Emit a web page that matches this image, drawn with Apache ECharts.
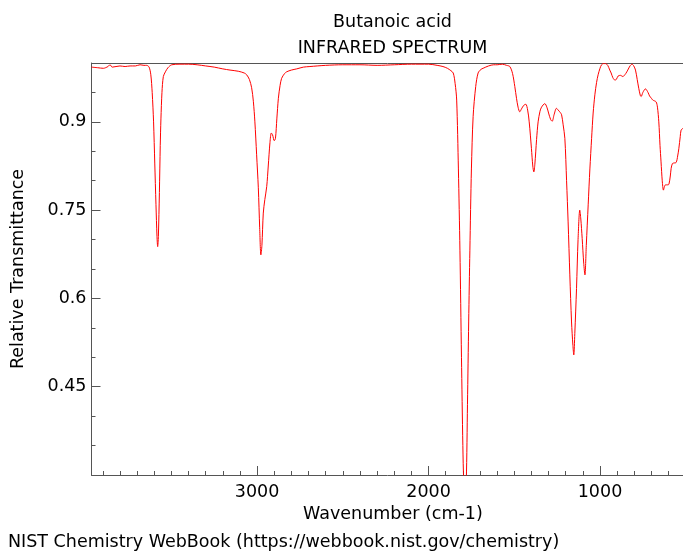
<!DOCTYPE html>
<html>
<head>
<meta charset="utf-8">
<title>Butanoic acid IR</title>
<script src="https://cdn.jsdelivr.net/npm/echarts@6/dist/echarts.min.js"></script>
<style>
  html, body { margin: 0; padding: 0; background: #fff; }
  #chart { width: 683px; height: 551px; }
</style>
</head>
<body>
<div id="chart"></div>
<script>
// spectrum (wavenumber cm-1, transmittance)
var wavenumber = [3966,3930,3897,3870,3858,3845,3800,3770,3741,3710,3683,3660,3644,3630,3620,3612,3604,3597,3590,3584,3580,3576,3570,3565,3561,3555,3547,3535,3520,3498,3450,3400,3350,3300,3250,3200,3158,3110,3075,3061,3045,3032,3022,3013,3003,2993,2985,2978,2972,2964,2955,2944,2935,2925,2917,2910,2900,2893,2885,2876,2866,2857,2840,2828,2800,2769,2730,2692,2600,2500,2400,2300,2200,2100,2000,1950,1916,1890,1870,1856,1845,1836,1826,1817,1808,1800,1795,1788,1780,1773,1766,1759,1750,1740,1725,1711,1695,1682,1650,1620,1600,1570,1545,1526,1510,1497,1487,1478,1468,1458,1445,1433,1422,1413,1400,1392,1386,1380,1370,1361,1350,1341,1322,1310,1300,1288,1279,1268,1254,1244,1232,1224,1215,1205,1195,1186,1176,1166,1158,1153,1147,1137,1128,1118,1112,1104,1095,1088,1080,1069,1059,1049,1040,1030,1020,1011,1000,991,980,968,955,943,935,925,913,905,894,880,867,850,838,825,813,803,793,783,774,765,760,750,735,720,711,700,692,673,665,657,650,644,637,630,624,618,605,598,590,585,578,571,556,547,540,532,527,516];
var transmittance = [0.993,0.992,0.991,0.994,0.997,0.993,0.995,0.994,0.995,0.995,0.997,0.996,0.996,0.993,0.980,0.950,0.900,0.830,0.760,0.705,0.688,0.705,0.780,0.860,0.905,0.950,0.977,0.985,0.992,0.997,0.998,0.998,0.997,0.995,0.993,0.990,0.988,0.986,0.983,0.980,0.972,0.958,0.935,0.900,0.845,0.788,0.720,0.674,0.690,0.745,0.768,0.790,0.825,0.865,0.881,0.878,0.868,0.872,0.905,0.940,0.962,0.974,0.982,0.985,0.988,0.990,0.993,0.994,0.996,0.997,0.997,0.996,0.997,0.998,0.998,0.996,0.994,0.991,0.987,0.983,0.965,0.937,0.820,0.682,0.500,0.350,0.290,0.260,0.290,0.420,0.560,0.682,0.820,0.909,0.960,0.983,0.989,0.991,0.995,0.997,0.997,0.998,0.996,0.994,0.982,0.960,0.940,0.925,0.917,0.922,0.928,0.930,0.920,0.900,0.855,0.825,0.815,0.828,0.870,0.900,0.918,0.925,0.931,0.925,0.915,0.904,0.901,0.912,0.923,0.920,0.916,0.912,0.895,0.872,0.800,0.730,0.640,0.560,0.520,0.504,0.540,0.617,0.700,0.750,0.735,0.702,0.660,0.640,0.690,0.759,0.820,0.872,0.915,0.946,0.967,0.980,0.991,0.997,0.999,0.999,0.996,0.988,0.983,0.975,0.971,0.972,0.978,0.979,0.977,0.982,0.988,0.995,0.998,0.995,0.988,0.972,0.957,0.945,0.943,0.950,0.956,0.950,0.944,0.940,0.937,0.934,0.925,0.900,0.860,0.832,0.800,0.784,0.790,0.793,0.793,0.794,0.808,0.821,0.829,0.830,0.831,0.842,0.855,0.875,0.886,0.889];

var xMinorTicks = [500,600,700,800,900,1000,1100,1200,1300,1400,1500,1600,1700,1800,1900,2000,2100,2200,2300,2400,2500,2600,2700,2800,2900,3000,3100,3200,3300,3400,3500,3600,3700,3800,3900];
var xMajorTicks = [1000, 2000, 3000];
var yMinorTicks = [0.35,0.4,0.45,0.5,0.55,0.6,0.65,0.7,0.75,0.8,0.85,0.9,0.95];
var yMajorTicks = [0.45, 0.6, 0.75, 0.9];

var font = 'DejaVu Sans';
var fontSize = 17.5;
var axisColor = '#555';
var xRange = { min: 450, max: 3966 };
var yRange = { min: 0.3, max: 1.0 };

var points = wavenumber.map(function (w, i) { return [w, transmittance[i]]; });

var chart = echarts.init(document.getElementById('chart'), null, { renderer: 'canvas' });

var txt = fontSize + 'px "DejaVu Sans"';

chart.setOption({
  animation: false,
  backgroundColor: '#fff',
  // the plot runs past the right edge of the picture (to 450 cm-1)
  grid: { left: 91.5, width: 602.8, top: 63, height: 412, outerBoundsMode: 'none', containLabel: false },
  graphic: [
    { type: 'text', x: 392.5, y: 22, style: { text: 'Butanoic acid', font: txt, fill: '#000', textAlign: 'center', textVerticalAlign: 'middle' } },
    { type: 'text', x: 392.5, y: 48, style: { text: 'INFRARED SPECTRUM', font: txt, fill: '#000', textAlign: 'center', textVerticalAlign: 'middle' } },
    { type: 'text', x: 8, y: 542, style: { text: 'NIST Chemistry WebBook (https://webbook.nist.gov/chemistry)', font: txt, fill: '#000', textAlign: 'left', textVerticalAlign: 'middle' } }
  ],
  xAxis: [
    {
      type: 'value', inverse: true, min: xRange.min, max: xRange.max, position: 'bottom',
      axisLine: { show: true, lineStyle: { color: axisColor, width: 1 } },
      axisTick: { show: true, inside: true, length: 4, customValues: xMinorTicks, lineStyle: { color: axisColor } },
      axisLabel: { show: false },
      splitLine: { show: false }
    },
    {
      type: 'value', inverse: true, min: xRange.min, max: xRange.max, position: 'bottom',
      axisLine: { show: false },
      axisTick: { show: true, inside: true, length: 9, customValues: xMajorTicks, lineStyle: { color: axisColor } },
      axisLabel: {
        show: true, customValues: xMajorTicks, margin: 8, color: '#000', fontFamily: font, fontSize: fontSize,
        formatter: function (v) { return String(v); }
      },
      splitLine: { show: false },
      name: 'Wavenumber (cm-1)', nameLocation: 'middle', nameGap: 28,
      nameTextStyle: { color: '#000', fontFamily: font, fontSize: fontSize }
    },
    {
      type: 'value', inverse: true, min: xRange.min, max: xRange.max, position: 'top',
      axisLine: { show: true, lineStyle: { color: axisColor, width: 1 } },
      axisTick: { show: false }, axisLabel: { show: false }, splitLine: { show: false }
    }
  ],
  yAxis: [
    {
      type: 'value', min: yRange.min, max: yRange.max, position: 'left',
      axisLine: { show: true, lineStyle: { color: axisColor, width: 1 } },
      axisTick: { show: true, inside: true, length: 4, customValues: yMinorTicks, lineStyle: { color: axisColor } },
      axisLabel: { show: false },
      splitLine: { show: false }
    },
    {
      type: 'value', min: yRange.min, max: yRange.max, position: 'left',
      axisLine: { show: false },
      axisTick: { show: true, inside: true, length: 9, customValues: yMajorTicks, lineStyle: { color: axisColor } },
      axisLabel: {
        show: true, customValues: yMajorTicks, margin: 5, color: '#000', fontFamily: font, fontSize: fontSize,
        formatter: function (v) { return String(v); }
      },
      splitLine: { show: false },
      name: 'Relative Transmittance', nameLocation: 'middle', nameGap: 64,
      nameTextStyle: { color: '#000', fontFamily: font, fontSize: fontSize }
    }
  ],
  series: [{
    type: 'line',
    xAxisIndex: 0,
    yAxisIndex: 0,
    data: points,
    showSymbol: false,
    smooth: 0.3,
    clip: true,
    lineStyle: { color: '#ff0000', width: 1 }
  }]
});
</script>
</body>
</html>
